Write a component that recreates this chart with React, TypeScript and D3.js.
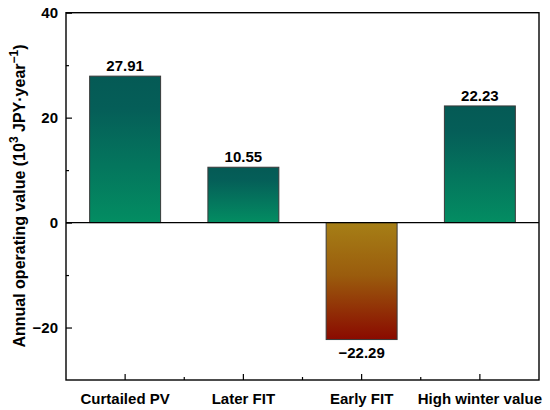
import React, { useEffect, useRef } from "react";
import * as d3 from "d3";

const categories = ["Curtailed PV", "Later FIT", "Early FIT", "High winter value"];
const values = [27.91, 10.55, -22.29, 22.23];
const valueLabels = ["27.91", "10.55", "\u221222.29", "22.23"];
const majorTicks = [-20, 0, 20, 40];
const minorTicks = [-10, 10, 30];

export default function App() {
  const width = 550;
  const height = 410;
  const svgRef = useRef<SVGSVGElement>(null);

  useEffect(() => {
    document.body.style.margin = "0";
    const svg = d3.select(svgRef.current);
    svg.selectAll("*").remove();

    const left = 66;
    const right = 539;
    const top = 12.7;
    const bottom = 380;
    const font = "'Liberation Sans', Arial, sans-serif";

    const x = d3.scaleBand<string>().domain(categories).range([left, right]).padding(0);
    const y = d3.scaleLinear().domain([-30, 40]).range([bottom, top]);
    const barW = x.bandwidth() * 0.6;

    const defs = svg.append("defs");
    const gPos = defs
      .append("linearGradient")
      .attr("id", "grad-pos")
      .attr("x1", 0)
      .attr("y1", 0)
      .attr("x2", 0)
      .attr("y2", 1);
    gPos.append("stop").attr("offset", "0%").attr("stop-color", "#055a55");
    gPos.append("stop").attr("offset", "22%").attr("stop-color", "#055e58");
    gPos.append("stop").attr("offset", "100%").attr("stop-color", "#038d62");

    const gNeg = defs
      .append("linearGradient")
      .attr("id", "grad-neg")
      .attr("x1", 0)
      .attr("y1", 0)
      .attr("x2", 0)
      .attr("y2", 1);
    gNeg.append("stop").attr("offset", "0%").attr("stop-color", "#a67f16");
    gNeg.append("stop").attr("offset", "45%").attr("stop-color", "#9a5c0d");
    gNeg.append("stop").attr("offset", "100%").attr("stop-color", "#8a0a00");

    // bars
    svg
      .selectAll(".bar")
      .data(values)
      .enter()
      .append("rect")
      .attr("class", "bar")
      .attr("x", (_, i) => (x(categories[i]) as number) + (x.bandwidth() - barW) / 2)
      .attr("y", (d) => y(Math.max(d, 0)))
      .attr("width", barW)
      .attr("height", (d) => Math.abs(y(d) - y(0)))
      .attr("fill", (d) => (d >= 0 ? "url(#grad-pos)" : "url(#grad-neg)"))
      .attr("stroke", "#3a3a3a")
      .attr("stroke-width", 1);

    // zero line
    svg
      .append("line")
      .attr("x1", left)
      .attr("x2", right)
      .attr("y1", y(0))
      .attr("y2", y(0))
      .attr("stroke", "#000")
      .attr("stroke-width", 1.2);

    // value labels
    svg
      .selectAll(".val")
      .data(values)
      .enter()
      .append("text")
      .attr("class", "val")
      .attr("x", (_, i) => (x(categories[i]) as number) + x.bandwidth() / 2)
      .attr("y", (d) => (d >= 0 ? y(d) - 5 : y(d) + 18))
      .attr("text-anchor", "middle")
      .style("font-family", font)
      .style("font-weight", "bold")
      .style("font-size", "15px")
      .text((_, i) => valueLabels[i]);

    // y axis
    const yAxis = svg
      .append("g")
      .attr("transform", `translate(${left},0)`)
      .call(
        d3
          .axisLeft(y)
          .tickValues(majorTicks)
          .tickSize(-6)
          .tickPadding(8)
          .tickFormat((d) => d3.format("d")(d as number).replace("-", "\u2212"))
      );
    yAxis.select(".domain").remove();
    yAxis.selectAll("line").attr("stroke", "#000").attr("stroke-width", 1.2);
    yAxis
      .selectAll("text")
      .style("font-family", font)
      .style("font-weight", "bold")
      .style("font-size", "15px")
      .attr("fill", "#000");

    const yMinor = svg
      .append("g")
      .attr("transform", `translate(${left},0)`)
      .call(d3.axisLeft(y).tickValues(minorTicks).tickSize(-3).tickFormat(() => ""));
    yMinor.select(".domain").remove();
    yMinor.selectAll("line").attr("stroke", "#000").attr("stroke-width", 1.2);

    // x axis
    const xAxis = svg
      .append("g")
      .attr("transform", `translate(0,${bottom})`)
      .call(d3.axisBottom(x).tickSize(-6).tickPadding(13));
    xAxis.select(".domain").remove();
    xAxis.selectAll("line").attr("stroke", "#000").attr("stroke-width", 1.2);
    xAxis
      .selectAll("text")
      .style("font-family", font)
      .style("font-weight", "bold")
      .style("font-size", "15px")
      .attr("fill", "#000");

    const boundaries = categories.slice(1).map((c) => x(c) as number);
    svg
      .selectAll(".xminor")
      .data(boundaries)
      .enter()
      .append("line")
      .attr("class", "xminor")
      .attr("x1", (d) => d)
      .attr("x2", (d) => d)
      .attr("y1", bottom)
      .attr("y2", bottom - 3)
      .attr("stroke", "#000")
      .attr("stroke-width", 1.2);

    // frame
    svg
      .append("rect")
      .attr("x", left)
      .attr("y", top)
      .attr("width", right - left)
      .attr("height", bottom - top)
      .attr("fill", "none")
      .attr("stroke", "#000")
      .attr("stroke-width", 1.4);

    // y label
    const yl = svg
      .append("text")
      .attr("transform", `translate(25,196) rotate(-90)`)
      .attr("text-anchor", "middle")
      .style("font-family", font)
      .style("font-weight", "bold")
      .style("font-size", "16px");
    yl.append("tspan").text("Annual operating value (10");
    yl.append("tspan").attr("dy", -7).style("font-size", "12px").text("3");
    yl.append("tspan").attr("dy", 7).text(" JPY\u00b7year");
    yl.append("tspan").attr("dy", -7).style("font-size", "12px").text("\u22121");
    yl.append("tspan").attr("dy", 7).text(")");
  }, []);

  return <svg ref={svgRef} width={width} height={height} style={{ display: "block" }}></svg>;
}
